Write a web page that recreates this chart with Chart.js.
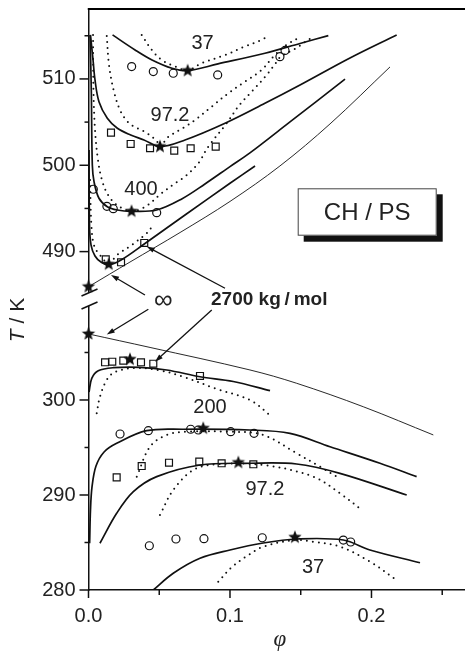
<!DOCTYPE html>
<html>
<head>
<meta charset="utf-8">
<script src="https://cdn.jsdelivr.net/npm/chart.js@4.4.0/dist/chart.umd.min.js"></script>
<style>
  html, body { margin: 0; padding: 0; background: #fff; }
  canvas { display: block; background: #fff; }
</style>
</head>
<body>
<canvas id="phaseChart" width="465" height="653"></canvas>
<script>
// [phi, T/K], upper (LCST) branch
const up37Solid = [[0.0170,515.10],[0.0329,513.36],[0.0449,512.20],[0.0590,511.24],[0.0701,510.96],[0.0915,511.74],[0.1247,512.98],[0.1495,514.11],[0.1695,515.02]];
const up37Dotted = [[0.0376,515.10],[0.0447,513.36],[0.0517,512.20],[0.0611,511.45],[0.0701,510.98],[0.0800,511.82],[0.0968,512.78],[0.1099,513.71],[0.1224,514.52],[0.1271,514.98]];
const up37Circles = [[0.0305,511.43],[0.0458,510.85],[0.0599,510.66],[0.0913,510.46],[0.1353,512.58],[0.1389,513.30]];

const up97Solid = [[0.0014,515.10],[0.0032,512.20],[0.0046,509.88],[0.0074,507.37],[0.0133,505.45],[0.0204,504.29],[0.0298,503.51],[0.0392,502.93],[0.0505,502.16],[0.0682,502.93],[0.0965,504.87],[0.1247,507.18],[0.1495,509.30],[0.1848,512.43],[0.2178,515.10]];
const up97Dotted = [[0.0129,514.98],[0.0145,511.62],[0.0180,508.53],[0.0228,506.21],[0.0293,504.79],[0.0399,503.86],[0.0482,502.82],[0.0505,502.16],[0.0564,503.28],[0.0682,504.44],[0.0753,505.25],[0.0873,506.82],[0.0988,508.34],[0.1106,509.69],[0.1224,511.04],[0.1306,512.58],[0.1389,513.82],[0.1483,514.75]];
const up97Squares = [[0.0159,503.78],[0.0298,502.47],[0.0435,501.97],[0.0606,501.69],[0.0722,501.97],[0.0899,502.16]];

const up400Solid = [[0.0011,515.10],[0.0020,508.53],[0.0027,500.03],[0.0039,498.10],[0.0074,496.18],[0.0133,495.20],[0.0204,494.82],[0.0300,494.67],[0.0482,494.82],[0.0659,496.10],[0.0823,497.83],[0.1000,499.84],[0.1141,501.43],[0.1424,505.02],[0.1813,509.97]];
const up400Dotted = [[0.0032,515.10],[0.0035,508.73],[0.0046,504.09],[0.0067,500.61],[0.0095,498.30],[0.0138,496.56],[0.0201,495.40],[0.0300,494.67],[0.0399,495.17],[0.0517,496.76],[0.0611,497.91],[0.0682,498.68],[0.0776,500.23],[0.0847,502.16],[0.0977,504.87],[0.1067,506.99],[0.1165,508.73],[0.1259,510.46],[0.1330,511.97],[0.1360,512.61],[0.1459,513.48],[0.1542,514.40],[0.1594,514.98]];
const up400Circles = [[0.0034,497.22],[0.0130,495.25],[0.0175,494.97],[0.0482,494.51]];

const up2700Solid = [[0.0004,501.77],[0.0007,493.08],[0.0018,490.76],[0.0046,489.49],[0.0088,488.79],[0.0140,488.45],[0.0230,489.03],[0.0394,490.88],[0.0682,494.24],[0.1000,497.91],[0.1177,499.92]];
const up2700Dotted = [[0.0011,498.30],[0.0021,492.89],[0.0042,490.57],[0.0093,489.37],[0.0140,488.68],[0.0211,489.72],[0.0305,490.76],[0.0411,492.12],[0.0449,492.89]];
const up2700Squares = [[0.0122,489.11],[0.0230,488.76],[0.0394,491.00]];

const upInfLine = [[0,485.93],[0.0293,488.79],[0.0647,492.21],[0.1000,495.81],[0.1353,499.92],[0.1707,504.79],[0.2131,511.39]];
const upCritical = [[0.0701,510.96],[0.0505,502.16],[0.0304,494.67],[0.0143,488.54],[0,485.93]];

// lower (UCST) branch
const lowInfLine = [[0,306.95],[0.0435,305.53],[0.1141,303.16],[0.1471,301.76],[0.1942,299.29],[0.2437,296.32]];

const low2700Solid = [[0.0004,300.84],[0.0023,302.28],[0.0069,303.08],[0.0175,303.40],[0.0364,303.44],[0.0553,303.16],[0.0788,302.45],[0.1023,301.95],[0.1283,300.98]];
const low2700Dotted = [[0.0058,298.60],[0.0081,300.35],[0.0129,302.11],[0.0187,302.95],[0.0329,303.37],[0.0505,303.11],[0.0670,302.45],[0.0906,301.16],[0.1141,300.00],[0.1295,298.24]];
const low2700Squares = [[0.0117,303.97],[0.0168,304.03],[0.0246,304.14],[0.0371,303.97],[0.0458,303.82],[0.0788,302.53]];

const low200Solid = [[0.0008,284.92],[0.0014,288.42],[0.0025,290.87],[0.0053,293.05],[0.0110,294.53],[0.0199,295.44],[0.0411,296.77],[0.0670,296.92],[0.1141,296.84],[0.1424,296.49],[0.1707,295.08],[0.2060,293.34],[0.2319,291.93]];
const low200Dotted = [[0.0341,291.93],[0.0435,295.08],[0.0553,296.32],[0.0694,296.66],[0.1000,296.66],[0.1235,296.32],[0.1471,294.39],[0.1636,292.98],[0.1754,291.93]];
const low200Circles = [[0.0223,296.42],[0.0423,296.77],[0.0722,296.92],[0.0776,296.84],[0.1005,296.66],[0.1170,296.49]];

const low97Solid = [[0.0081,284.92],[0.0199,288.07],[0.0317,290.35],[0.0482,291.93],[0.0788,293.16],[0.1141,293.34],[0.1471,293.26],[0.1777,292.28],[0.2249,290.00]];
const low97Dotted = [[0.0505,287.89],[0.0599,290.53],[0.0741,292.63],[0.0906,293.23],[0.1235,293.16],[0.1589,291.93],[0.1777,290.18],[0.1931,288.42]];
const low97Squares = [[0.0199,291.86],[0.0376,293.05],[0.0569,293.40],[0.0783,293.51],[0.0941,293.34],[0.1165,293.23]];

const low37Solid = [[0.0458,280.00],[0.0599,281.76],[0.0788,283.34],[0.1000,284.21],[0.1235,284.95],[0.1471,285.37],[0.1801,285.26],[0.1989,284.21],[0.2343,282.87]];
const low37Dotted = [[0.0917,280.87],[0.1014,282.42],[0.1120,283.58],[0.1235,284.56],[0.1459,285.26],[0.1589,285.08],[0.1777,284.56],[0.1989,282.98],[0.2178,281.05]];
const low37Circles = [[0.0430,284.66],[0.0618,285.37],[0.0816,285.40],[0.1228,285.50],[0.1801,285.26],[0.1853,285.05]];

const lowCritical = [[0,306.95],[0.0293,304.28],[0.0811,297.02],[0.1059,293.42],[0.1459,285.55]];

// axes
const xTicks = [0, 0.1, 0.2];
const xMinor = [0.05, 0.15, 0.25];
const upTicks = [490, 500, 510];
const upMinor = [495, 505, 515];
const lowTicks = [280, 290, 300];
const lowMinor = [285, 295, 305];

// curve labels [text, phi, T, axis]
const curveLabels = [
  ['37', 0.0806, 514.06, 'yUp'], ['97.2', 0.0576, 505.75, 'yUp'], ['400', 0.0371, 497.25, 'yUp'],
  ['200', 0.0859, 299.21, 'yLow'], ['97.2', 0.1247, 290.63, 'yLow'], ['37', 0.1587, 282.37, 'yLow']
];
// arrows [phi0, T0, axis0, phi1, T1, axis1]
const arrows = [
  [0.0399, 484.97, 'yUp', 0.0159, 487.29, 'yUp'],
  [0.0423, 309.55, 'yLow', 0.0129, 306.89, 'yLow'],
  [0.0965, 485.75, 'yUp', 0.0411, 490.59, 'yUp'],
  [0.0871, 309.47, 'yLow', 0.0470, 304.03, 'yLow']
];

Chart.defaults.font.family = '"Liberation Sans", Arial, sans-serif';
Chart.defaults.color = '#222';

const INK = '#111';
const toXY = arr => arr.map(([x, y]) => ({ x, y }));

function makeStar(r) {
  const c = document.createElement('canvas');
  c.width = c.height = 2 * r + 2;
  const g = c.getContext('2d');
  g.translate(r + 1, r + 1);
  g.beginPath();
  for (let i = 0; i < 10; i++) {
    const rad = i % 2 ? r * 0.42 : r;
    const a = -Math.PI / 2 + i * Math.PI / 5;
    g.lineTo(rad * Math.cos(a), rad * Math.sin(a));
  }
  g.closePath();
  g.fillStyle = INK;
  g.fill();
  return c;
}
const starImg = makeStar(7);

const solid = (data, yAxisID, w = 1.7) => ({
  data: toXY(data), yAxisID, showLine: true, borderColor: INK, borderWidth: w,
  pointRadius: 0, tension: 0.35, order: 2
});
const dotted = (data, yAxisID) => ({
  ...solid(data, yAxisID, 2), borderDash: [0, 6], borderCapStyle: 'round'
});
const marks = (data, yAxisID, style, r) => ({
  data: toXY(data), yAxisID, showLine: false, pointStyle: style, pointRadius: r,
  pointBorderColor: INK, pointBorderWidth: 1.2, pointBackgroundColor: 'rgba(0,0,0,0)',
  clip: false, order: 1
});

const datasets = [
  solid(up37Solid, 'yUp'), dotted(up37Dotted, 'yUp'), marks(up37Circles, 'yUp', 'circle', 4),
  solid(up97Solid, 'yUp'), dotted(up97Dotted, 'yUp'), marks(up97Squares, 'yUp', 'rect', 4.9),
  solid(up400Solid, 'yUp'), dotted(up400Dotted, 'yUp'), marks(up400Circles, 'yUp', 'circle', 4),
  solid(up2700Solid, 'yUp'), dotted(up2700Dotted, 'yUp'), marks(up2700Squares, 'yUp', 'rect', 4.9),
  solid(upInfLine, 'yUp', 0.9), marks(upCritical, 'yUp', starImg, 6),
  solid(lowInfLine, 'yLow', 0.9),
  solid(low2700Solid, 'yLow'), dotted(low2700Dotted, 'yLow'), marks(low2700Squares, 'yLow', 'rect', 4.9),
  solid(low200Solid, 'yLow'), dotted(low200Dotted, 'yLow'), marks(low200Circles, 'yLow', 'circle', 4),
  solid(low97Solid, 'yLow'), dotted(low97Dotted, 'yLow'), marks(low97Squares, 'yLow', 'rect', 4.9),
  solid(low37Solid, 'yLow'), dotted(low37Dotted, 'yLow'), marks(low37Circles, 'yLow', 'circle', 4),
  marks(lowCritical, 'yLow', starImg, 6)
];

const tickFont = { size: 20 };
const setTicks = list => s => { s.ticks = list.map(v => ({ value: v })); };
const noPad = s => { s.paddingTop = 0; s.paddingBottom = 0; s.paddingLeft = 0; s.paddingRight = 0; };

// top frame line, drawn on its own
const topFrame = {
  id: 'topFrame',
  afterDraw(chart) {
    const { ctx, scales } = chart;
    const y = scales.yUp.top;
    ctx.save();
    ctx.fillStyle = '#000';
    ctx.fillRect(scales.x.left - 0.75, y - 1, scales.x.right - scales.x.left + 0.75, 2);
    ctx.restore();
  }
};

const decor = {
  id: 'decor',
  afterDraw(chart) {
    const { ctx, chartArea: a, scales } = chart;
    const { x, yUp, yLow } = scales;
    const seg = (x0, y0, x1, y1) => { ctx.beginPath(); ctx.moveTo(x0, y0); ctx.lineTo(x1, y1); ctx.stroke(); };
    ctx.save();
    ctx.strokeStyle = INK;
    ctx.fillStyle = INK;
    ctx.lineWidth = 1.5;

    // tick marks
    upTicks.forEach(v => seg(a.left - 9, yUp.getPixelForValue(v), a.left, yUp.getPixelForValue(v)));
    upMinor.forEach(v => seg(a.left - 4, yUp.getPixelForValue(v), a.left, yUp.getPixelForValue(v)));
    lowTicks.forEach(v => seg(a.left - 9, yLow.getPixelForValue(v), a.left, yLow.getPixelForValue(v)));
    lowMinor.forEach(v => seg(a.left - 4, yLow.getPixelForValue(v), a.left, yLow.getPixelForValue(v)));
    xTicks.forEach(v => seg(x.getPixelForValue(v), a.bottom, x.getPixelForValue(v), a.bottom + 8));
    xMinor.forEach(v => seg(x.getPixelForValue(v), a.bottom, x.getPixelForValue(v), a.bottom + 5));

    // axis break
    const yb = yUp.bottom;
    ctx.fillStyle = '#fff';
    ctx.fillRect(a.left - 2, yb - 6, 4, 13);
    ctx.fillStyle = INK;
    seg(a.left - 7, yb - 3, a.left + 9, yb - 10);
    seg(a.left - 7, yb + 10, a.left + 9, yb + 3);

    // arrows
    ctx.lineWidth = 1.3;
    arrows.forEach(([p0, t0, s0, p1, t1, s1]) => {
      const x0 = x.getPixelForValue(p0), y0 = scales[s0].getPixelForValue(t0);
      const x1 = x.getPixelForValue(p1), y1 = scales[s1].getPixelForValue(t1);
      const ang = Math.atan2(y1 - y0, x1 - x0);
      seg(x0, y0, x1 - 5 * Math.cos(ang), y1 - 5 * Math.sin(ang));
      ctx.beginPath();
      ctx.moveTo(x1, y1);
      ctx.lineTo(x1 - 8 * Math.cos(ang) + 2.6 * Math.sin(ang), y1 - 8 * Math.sin(ang) - 2.6 * Math.cos(ang));
      ctx.lineTo(x1 - 8 * Math.cos(ang) - 2.6 * Math.sin(ang), y1 - 8 * Math.sin(ang) + 2.6 * Math.cos(ang));
      ctx.closePath();
      ctx.fill();
    });

    // curve labels
    ctx.fillStyle = '#222';
    ctx.textAlign = 'center';
    ctx.textBaseline = 'middle';
    ctx.font = '20px "Liberation Sans", Arial, sans-serif';
    curveLabels.forEach(([txt, p, t, s]) => ctx.fillText(txt, x.getPixelForValue(p), scales[s].getPixelForValue(t)));

    ctx.font = '26px "Liberation Sans", Arial, sans-serif';
    ctx.fillText('\u221E', x.getPixelForValue(0.0529), yLow.getPixelForValue(310.42));
    ctx.textAlign = 'left';
    ctx.font = 'bold 19px "Liberation Sans", Arial, sans-serif';
    ctx.fillText('2700 kg\u2009/\u2009mol', x.getPixelForValue(0.0866), yLow.getPixelForValue(310.53));

    // CH / PS box
    const bx = 297.7, by = 188.3, bw = 139, bh = 47.4;
    ctx.fillStyle = INK;
    ctx.fillRect(bx + 6, by + 6, bw, bh);
    ctx.fillStyle = '#fff';
    ctx.fillRect(bx, by, bw, bh);
    ctx.lineWidth = 1;
    ctx.strokeStyle = '#444';
    ctx.strokeRect(bx + 0.5, by + 0.5, bw - 1, bh - 1);
    ctx.fillStyle = '#222';
    ctx.textAlign = 'center';
    ctx.font = '24px "Liberation Sans", Arial, sans-serif';
    ctx.fillText('CH / PS', bx + bw / 2, by + bh / 2 + 1);

    // axis titles
    ctx.font = 'italic 23px "Liberation Serif", serif';
    ctx.fillText('\u03C6', (a.left + a.right) / 2 + 3, 640);

    ctx.translate(18, 320);
    ctx.rotate(-Math.PI / 2);
    const fi = 'italic 21px "Liberation Sans", Arial, sans-serif';
    const fr = '21px "Liberation Sans", Arial, sans-serif';
    ctx.font = fi; const wT = ctx.measureText('T').width;
    ctx.font = fr; const wR = ctx.measureText(' / K').width;
    ctx.textAlign = 'left';
    ctx.font = fi; ctx.fillText('T', -(wT + wR) / 2, 0);
    ctx.font = fr; ctx.fillText(' / K', -(wT + wR) / 2 + wT, 0);
    ctx.restore();
  }
};

new Chart(document.getElementById('phaseChart'), {
  type: 'scatter',
  data: { datasets },
  options: {
    responsive: false,
    animation: false,
    events: [],
    layout: { autoPadding: false, padding: { top: 9, right: 0, left: 0, bottom: 0 } },
    plugins: { legend: { display: false }, tooltip: { enabled: false } },
    scales: {
      x: {
        type: 'linear', min: 0, max: 0.2661,
        grid: { display: false, drawTicks: false },
        border: { display: true, color: INK, width: 1.5 },
        ticks: { font: tickFont, padding: 14, color: '#222', callback: v => v.toFixed(1) },
        afterBuildTicks: setTicks(xTicks),
        afterFit: s => { noPad(s); s.height = 63; }
      },
      yLow: {
        type: 'linear', position: 'left', stack: 'T', stackWeight: 291,
        min: 280, max: 310.63,
        grid: { display: false, drawTicks: false },
        border: { display: true, color: INK, width: 1.5 },
        ticks: { font: tickFont, padding: 13, color: '#222' },
        afterBuildTicks: setTicks(lowTicks),
        afterFit: s => { noPad(s); s.width = 88.5; }
      },
      yUp: {
        type: 'linear', position: 'left', stack: 'T', stackWeight: 290,
        min: 484.51, max: 518.1,
        grid: { display: false, drawTicks: false },
        border: { display: true, color: INK, width: 1.5 },
        ticks: { font: tickFont, padding: 13, color: '#222' },
        afterBuildTicks: setTicks(upTicks),
        afterFit: s => { noPad(s); s.width = 88.5; }
      }
    }
  },
  plugins: [decor, topFrame]
});
</script>
</body>
</html>
